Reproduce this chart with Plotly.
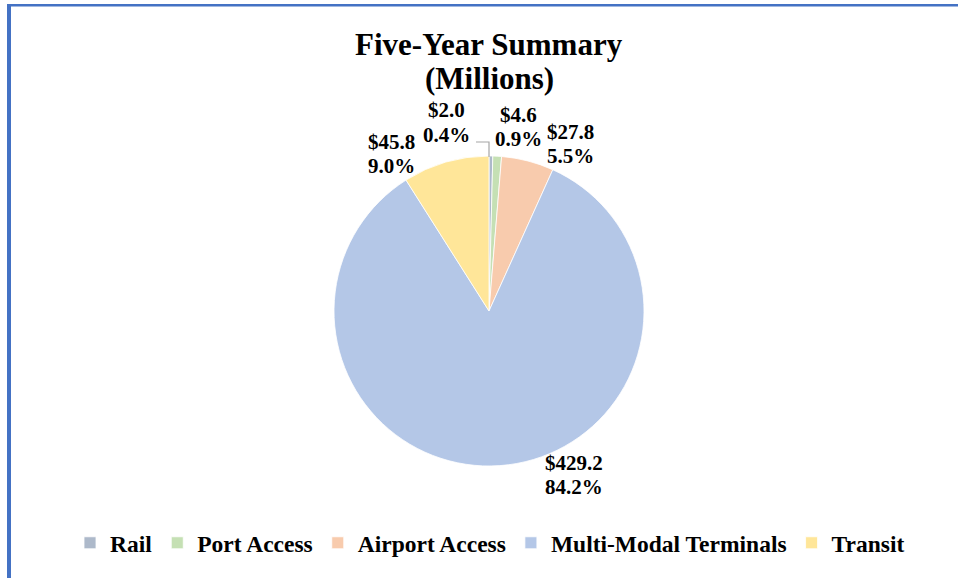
import plotly.graph_objects as go

categories = ["Rail", "Port Access", "Airport Access", "Multi-Modal Terminals", "Transit"]
values = [2.0, 4.6, 27.8, 429.2, 45.8]
pct_labels = ["0.4%", "0.9%", "5.5%", "84.2%", "9.0%"]
colors = ["#ADB9CA", "#C5E0B4", "#F8CBAD", "#B4C7E7", "#FFE699"]

W, H = 958, 578
cx, cy, r = 489, 311, 155

# label block positions (pixels: x centre, y of value line, y of percent line)
label_pos = [(446, 110, 135), (518, 115, 139), (570, 132, 156), (574, 463, 487), (391, 142, 166)]

def px(x):
    return x / W

def py(y):
    return 1 - y / H

fig = go.Figure(go.Pie(
    labels=categories,
    values=values,
    sort=False,
    direction="clockwise",
    rotation=0,
    marker=dict(colors=colors, line=dict(color="white", width=0.8)),
    textinfo="none",
    hoverinfo="label+value+percent",
    domain=dict(x=[px(cx - r), px(cx + r)], y=[py(cy + r), py(cy - r)]),
    automargin=False,
))

annotations = []
for v, p, (lx, ly1, ly2) in zip(values, pct_labels, label_pos):
    annotations.append(dict(text=f"<b>${v:.1f}</b>", x=px(lx), y=py(ly1), xref="paper", yref="paper",
                            xanchor="center", yanchor="middle", showarrow=False,
                            font=dict(family="Liberation Serif", size=21, color="black")))
    annotations.append(dict(text=f"<b>{p}</b>", x=px(lx), y=py(ly2), xref="paper", yref="paper",
                            xanchor="center", yanchor="middle", showarrow=False,
                            font=dict(family="Liberation Serif", size=21, color="black")))

# title (two lines)
annotations.append(dict(text="<b>Five-Year Summary</b>", x=px(489), y=py(44), xref="paper", yref="paper",
                        xanchor="center", yanchor="middle", showarrow=False,
                        font=dict(family="Liberation Serif", size=31, color="black")))
annotations.append(dict(text="<b>(Millions)</b>", x=px(489), y=py(78), xref="paper", yref="paper",
                        xanchor="center", yanchor="middle", showarrow=False,
                        font=dict(family="Liberation Serif", size=31, color="black")))

fig.update_layout(
    width=W, height=H,
    margin=dict(l=0, r=0, t=0, b=0),
    paper_bgcolor="white",
    plot_bgcolor="white",
    font=dict(family="Liberation Serif", color="black"),
    showlegend=True,
    legend=dict(
        orientation="h",
        x=px(490), xanchor="center",
        y=py(543), yanchor="middle",
        font=dict(family="Liberation Serif", size=23.5, color="black", weight="bold"),
        traceorder="normal",
    ),
    annotations=annotations,
    shapes=[
        # chart border (top and left visible)
        dict(type="line", xref="paper", yref="paper", x0=px(7), x1=1, y0=py(5.2), y1=py(5.2),
             line=dict(color="#4472C4", width=2.5)),
        dict(type="line", xref="paper", yref="paper", x0=px(9), x1=px(9), y0=0, y1=py(4),
             line=dict(color="#4472C4", width=4)),
        # leader line for Rail label
        dict(type="path", xref="paper", yref="paper",
             path=f"M {px(476)},{py(142)} L {px(489)},{py(142)} L {px(489)},{py(157)}",
             line=dict(color="#A6A6A6", width=1.2)),
    ],
)

fig.write_html("out.html", config={"displayModeBar": False},
               post_script="document.body.style.margin='0px';")
